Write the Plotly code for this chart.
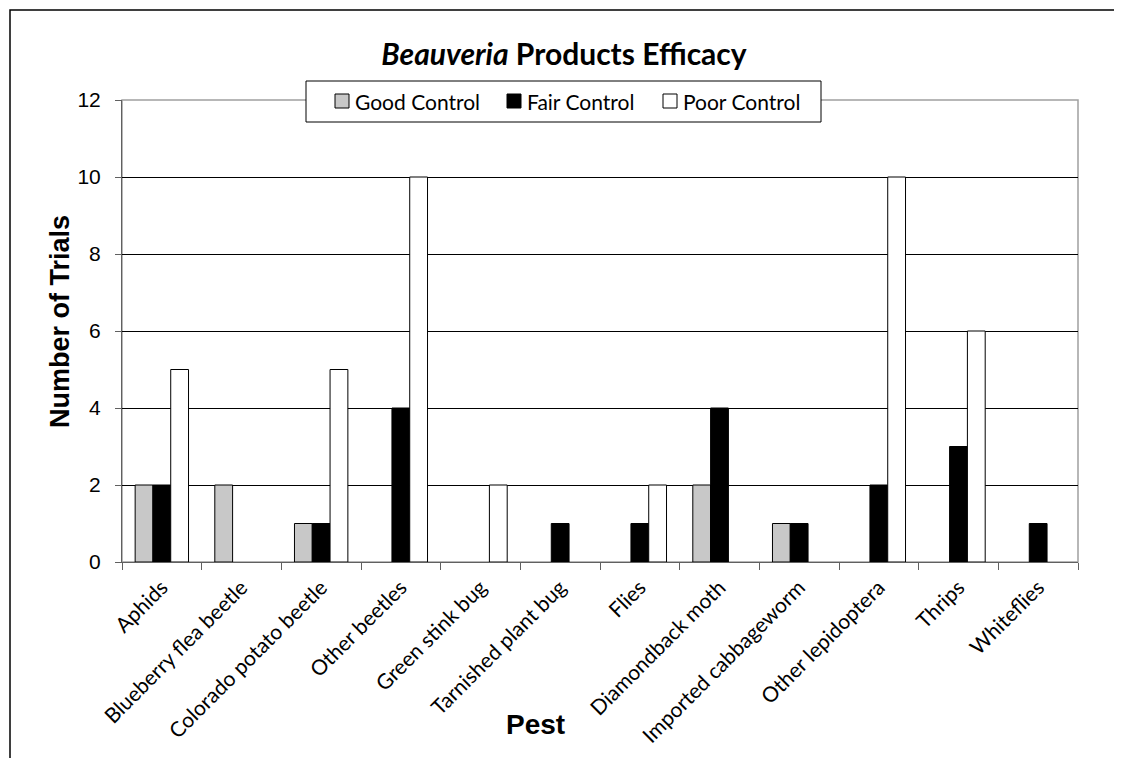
import plotly.graph_objects as go

pests = ["Aphids", "Blueberry flea beetle", "Colorado potato beetle", "Other beetles",
         "Green stink bug", "Tarnished plant bug", "Flies", "Diamondback moth",
         "Imported cabbageworm", "Other lepidoptera", "Thrips", "Whiteflies"]
good = [2, 2, 1, 0, 0, 0, 0, 2, 1, 0, 0, 0]
fair = [2, 0, 1, 4, 0, 1, 1, 4, 1, 2, 3, 1]
poor = [5, 0, 5, 10, 2, 0, 2, 0, 0, 10, 6, 0]
series_names = ["Good Control", "Fair Control", "Poor Control"]
series_colors = ["#c8c8c8", "#000000", "#ffffff"]
y_ticks = [0, 2, 4, 6, 8, 10, 12]

OFF = 8  # page body margin
W, H = 1122 - OFF, 758 - OFF
L, R, T, B = 122, 1078, 100, 562  # page pixel coordinates of plot area


def px_x(p):
    return (p - L) / (R - L)


def px_y(p):
    return (B - p) / (B - T)


calibri = "Lato, Carlito, Calibri, sans-serif"
arial = "Liberation Sans, Arial, sans-serif"

fig = go.Figure()
for name, vals, col in zip(series_names, [good, fair, poor], series_colors):
    fig.add_trace(go.Bar(name=name, x=pests, y=[v if v else None for v in vals],
                         marker=dict(color=col, line=dict(color="#000000", width=1)),
                         showlegend=False))

fig.update_layout(
    width=W, height=H,
    margin=dict(l=L - OFF, r=W - (R - OFF), t=T - OFF, b=H - (B - OFF)),
    paper_bgcolor="white", plot_bgcolor="white",
    barmode="group", bargap=0.33, bargroupgap=0,
    title=dict(text="<i>Beauveria</i> Products Efficacy", x=px_x(564), xref="paper",
               xanchor="center", y=1 - (54 - OFF) / H, yanchor="middle",
               font=dict(family=calibri, size=30, color="#000", weight="bold")),
    font=dict(family=arial, color="#000"),
)

fig.update_xaxes(
    type="category", tickangle=-45, tickson="boundaries",
    ticks="outside", ticklen=7, tickcolor="#606060", ticklabelstandoff=4,
    tickfont=dict(family=calibri, size=21, color="#000"),
    showline=True, linecolor="#606060", linewidth=1,
    showgrid=False, zeroline=False,
)
fig.update_yaxes(
    range=[0, 12], tickvals=y_ticks, ticks="outside", ticklen=6, tickcolor="#606060",
    ticklabelstandoff=10,
    tickfont=dict(family=arial, size=21, color="#000"),
    showline=True, linecolor="#606060", linewidth=1,
    showgrid=True, gridcolor="#000000", gridwidth=1, zeroline=False,
)

# plot area outline (gray)
fig.add_shape(type="rect", xref="paper", yref="paper", x0=0, x1=1, y0=0, y1=1,
              line=dict(color="#a0a0a0", width=1.5), layer="below")
# outer chart border
fig.add_shape(type="rect", xref="paper", yref="paper",
              x0=px_x(10), x1=px_x(1115), y0=px_y(10), y1=px_y(800),
              line=dict(color="#000000", width=1.5))

# legend box
fig.add_shape(type="rect", xref="paper", yref="paper",
              x0=px_x(306), x1=px_x(821), y0=px_y(81), y1=px_y(122),
              line=dict(color="#000000", width=1), fillcolor="white", layer="above")
sym_left = [335, 507, 663]
for name, col, sx in zip(series_names, series_colors, sym_left):
    fig.add_shape(type="rect", xref="paper", yref="paper",
                  x0=px_x(sx), x1=px_x(sx + 14), y0=px_y(94), y1=px_y(108),
                  line=dict(color="#000000", width=1), fillcolor=col, layer="above")
    fig.add_annotation(text=name, xref="paper", yref="paper",
                       x=px_x(sx + 18), y=px_y(101.5), xanchor="left", yanchor="middle",
                       showarrow=False, font=dict(family=calibri, size=21, color="#000"))

fig.add_annotation(text="<b>Number of Trials</b>", xref="paper", yref="paper",
                   x=px_x(43), y=px_y(322), textangle=-90, showarrow=False,
                   font=dict(family=arial, size=27, color="#000"))
fig.add_annotation(text="<b>Pest</b>", xref="paper", yref="paper",
                   x=px_x(535), y=px_y(742), showarrow=False,
                   font=dict(family=arial, size=28, color="#000"))

fig.write_html("out.html")
